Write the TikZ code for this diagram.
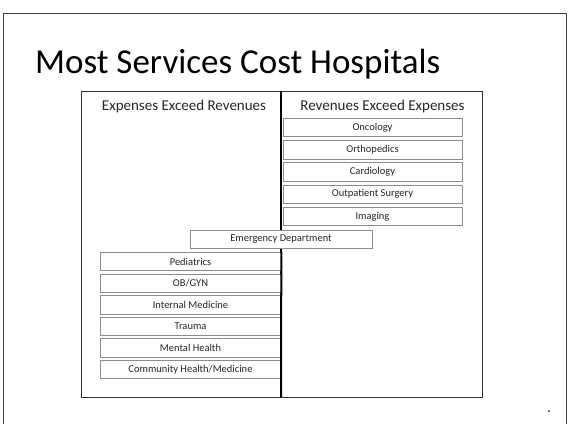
\documentclass[tikz,border=0pt]{standalone}
\usepackage{fontspec}
\setmainfont{Carlito}
\begin{document}
\begin{tikzpicture}[x=1pt,y=-1pt,
  svc/.style={draw=black!45, line width=0.7pt, fill=white, minimum height=18.5pt, inner sep=0pt,
    text=black!85, font=\fontsize{10.5}{12}\selectfont},
  rsvc/.style={svc, minimum width=179pt},
  lsvc/.style={svc, minimum width=181pt},
  head/.style={anchor=base, inner sep=0pt, text=black!85, font=\fontsize{15}{18}\selectfont},
  frame/.style={draw=black!75, line width=1pt}]
\useasboundingbox (0,0) rectangle (569,424);
% outer slide frame
\draw[frame] (3,424) -- (3,13) -- (566,13) -- (566,424);
\node[anchor=base west, inner sep=0pt, font=\fontsize{35}{40}\selectfont] (title) at (35,73) {Most Services Cost Hospitals};
% table
\draw[draw=black!80, line width=1pt] (81,91) rectangle (482,397);
\coordinate (dtop) at (281,91);
\coordinate (dbot) at (281,397);
\draw[line width=2pt, black] (dtop) -- (dbot);
\node[head] (hl) at (184,110) {Expenses Exceed Revenues};
\node[head] (hr) at (382.5,110) {Revenues Exceed Expenses};
% right column
\node[rsvc] (onc) at (372.5,127.5) {Oncology};
\node[rsvc] (ort) at (372.5,149.75) {Orthopedics};
\node[rsvc] (car) at (372.5,172) {Cardiology};
\node[rsvc] (out) at (372.5,194.25) {Outpatient Surgery};
\node[rsvc] (img) at (372.5,216.5) {Imaging};
% middle
\node[svc, minimum width=182pt] (ed) at (281,239.5) {Emergency Department};
% left column
\node[lsvc] (ped) at (190.5,261.5) {Pediatrics};
\node[lsvc] (ob) at (190.5,283.1) {OB/GYN};
\node[lsvc] (im) at (190.5,304.7) {Internal Medicine};
\node[lsvc] (tra) at (190.5,326.3) {Trauma};
\node[lsvc] (mh) at (190.5,347.9) {Mental Health};
\node[lsvc] (ch) at (190.5,369.5) {Community Health/Medicine};
\draw[line width=2pt, black] (ped.north east) -- (dbot);
% slide mark
\fill[black!70] (549,411) circle (1.2);
\end{tikzpicture}
\end{document}
